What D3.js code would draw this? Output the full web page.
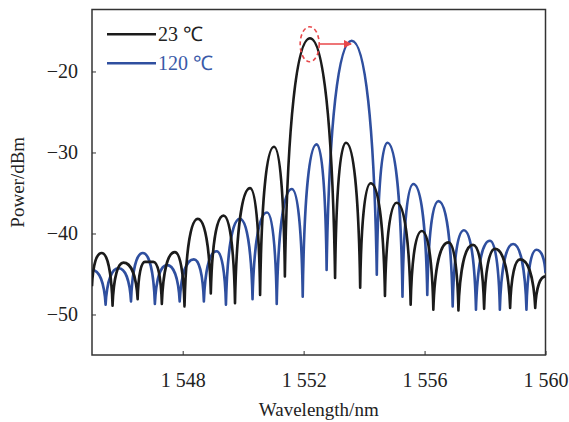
<!DOCTYPE html>
<html>
<head>
<meta charset="utf-8">
<script src="https://cdn.jsdelivr.net/npm/d3@7"></script>
<style>
  body { margin: 0; background: #fff; }
  svg { display: block; }
  text { font-family: "Liberation Serif", "Times New Roman", serif; }
</style>
</head>
<body>
<div id="chart"></div>
<script>
// wavelength (nm) / power (dBm), lobe peaks and dips
const black23 = [
  [1545.0, -46.5], [1545.32, -42.4], [1545.68, -48.9], [1546.04, -43.6], [1546.51, -48.1],
  [1546.75, -43.5], [1547.03, -43.5], [1547.31, -48.7], [1547.74, -42.3], [1548.06, -49.0],
  [1548.50, -38.2], [1548.93, -47.4], [1549.35, -37.8], [1549.73, -48.6], [1550.23, -34.4],
  [1550.56, -47.6], [1551.02, -29.3], [1551.38, -45.3], [1552.21, -15.9], [1553.04, -45.5],
  [1553.40, -28.8], [1553.87, -46.7], [1554.22, -33.8], [1554.69, -47.7], [1555.08, -36.2],
  [1555.54, -48.8], [1555.91, -39.7], [1556.29, -49.4], [1556.79, -41.1], [1557.12, -49.5],
  [1557.60, -41.4], [1557.97, -49.3], [1558.33, -41.9], [1558.83, -49.2], [1559.16, -43.2],
  [1559.66, -49.2], [1560.0, -45.3]
];

const blue120 = [
  [1545.0, -44.5], [1545.45, -48.8], [1545.88, -44.3], [1546.29, -48.4], [1546.68, -42.4],
  [1547.08, -48.7], [1547.48, -43.9], [1547.90, -48.4], [1548.37, -43.2], [1548.70, -48.4],
  [1549.12, -42.2], [1549.43, -48.8], [1549.89, -38.2], [1550.31, -48.1], [1550.79, -37.4],
  [1551.11, -48.7], [1551.61, -34.5], [1551.97, -47.8], [1552.43, -29.0], [1552.76, -44.5],
  [1553.59, -16.2], [1554.42, -45.1], [1554.77, -28.8], [1555.27, -47.8], [1555.63, -33.9],
  [1556.09, -47.6], [1556.46, -36.0], [1556.93, -49.0], [1557.30, -39.6], [1557.70, -49.4],
  [1558.16, -40.9], [1558.49, -49.4], [1558.93, -41.3], [1559.37, -49.4], [1559.70, -42.0],
  [1560.0, -44.9]
];

const xTicks = [1548, 1552, 1556, 1560];
const yTicks = [-20, -30, -40, -50];
const legendLabels = ["23 \u2103", "120 \u2103"];
const seriesColors = ["#1b1b1b", "#2f4f9f"];

const width = 569, height = 422;
const margin = {top: 9.5, right: 23.5, bottom: 67, left: 92};

const svg = d3.select("#chart").append("svg")
  .attr("width", width)
  .attr("height", height);

const x = d3.scaleLinear().domain([1545, 1560]).range([margin.left, width - margin.right]);
const y = d3.scaleLinear().domain([-55, -12.35]).range([height - margin.bottom, margin.top]);

const fmt = d => String(d).replace(/^(\d)(\d{3})$/, "$1 $2");

// curve for a spectrum: round tops, narrow dips (each lobe drawn as an arch)
function ArchCurve(context) { this._context = context; }
ArchCurve.prototype = {
  areaStart() { this._line = 0; },
  areaEnd() { this._line = NaN; },
  lineStart() { this._pts = []; },
  point(px, py) { this._pts.push([+px, +py]); },
  lineEnd() {
    const p = this._pts, ctx = this._context;
    if (!p.length) return;
    ctx.moveTo(p[0][0], p[0][1]);
    for (let i = 1; i < p.length; i++) {
      const a = p[i - 1], b = p[i];
      const dx = b[0] - a[0], dy = b[1] - a[1];
      if (Math.abs(dy) < 1) {
        ctx.bezierCurveTo(a[0] + dx * 0.4, a[1], b[0] - dx * 0.4, b[1], b[0], b[1]);
        continue;
      }
      const top = a[1] < b[1] ? a : b;      // smaller pixel y = higher power
      const dip = top === a ? b : a;
      const sx = Math.sign(dip[0] - top[0]);
      const w = Math.abs(dx), h = Math.abs(dy);
      const cTop = [top[0] + sx * w * 0.52, top[1]];
      const cDip = [dip[0] - sx * w * 0.1, dip[1] - h * 0.65];
      if (top === a) ctx.bezierCurveTo(cTop[0], cTop[1], cDip[0], cDip[1], b[0], b[1]);
      else ctx.bezierCurveTo(cDip[0], cDip[1], cTop[0], cTop[1], b[0], b[1]);
    }
  }
};
const archCurve = ctx => new ArchCurve(ctx);

// axes, ticks pointing inward
svg.append("g")
  .attr("transform", `translate(0,${height - margin.bottom})`)
  .call(d3.axisBottom(x).tickValues(xTicks).tickSize(-4).tickPadding(18).tickFormat(fmt))
  .call(g => g.select(".domain").remove())
  .call(g => g.selectAll("line").attr("stroke", "#333"))
  .call(g => g.selectAll("text").attr("font-size", 20).attr("fill", "#222")
    .attr("font-family", "Liberation Serif"));

svg.append("g")
  .attr("transform", `translate(${margin.left},0)`)
  .call(d3.axisLeft(y).tickValues(yTicks).tickSize(-4).tickPadding(14)
    .tickFormat(d => "\u2212" + Math.abs(d)))
  .call(g => g.select(".domain").remove())
  .call(g => g.selectAll("line").attr("stroke", "#333"))
  .call(g => g.selectAll("text").attr("font-size", 20).attr("fill", "#222")
    .attr("font-family", "Liberation Serif"));

// frame
svg.append("rect")
  .attr("x", margin.left)
  .attr("y", margin.top)
  .attr("width", width - margin.left - margin.right)
  .attr("height", height - margin.top - margin.bottom)
  .attr("fill", "none")
  .attr("stroke", "#333")
  .attr("stroke-width", 1.5);

const line = d3.line()
  .x(d => x(d[0]))
  .y(d => y(d[1]))
  .curve(archCurve);

svg.append("clipPath").attr("id", "clip")
  .append("rect")
  .attr("x", margin.left).attr("y", margin.top)
  .attr("width", width - margin.left - margin.right)
  .attr("height", height - margin.top - margin.bottom);

const plot = svg.append("g").attr("clip-path", "url(#clip)");

plot.append("path")
  .datum(blue120)
  .attr("d", line)
  .attr("fill", "none")
  .attr("stroke", seriesColors[1])
  .attr("stroke-width", 2.6)
  .attr("stroke-linejoin", "round");

plot.append("path")
  .datum(black23)
  .attr("d", line)
  .attr("fill", "none")
  .attr("stroke", seriesColors[0])
  .attr("stroke-width", 2.6)
  .attr("stroke-linejoin", "round");

// red marker: dashed ellipse round the 23 degree peak and arrow to the shifted peak
svg.append("defs").append("marker")
  .attr("id", "arrow")
  .attr("viewBox", "0 0 10 10")
  .attr("refX", 9).attr("refY", 5)
  .attr("markerWidth", 5).attr("markerHeight", 5)
  .attr("orient", "auto")
  .append("path")
  .attr("d", "M0,0L10,5L0,10z")
  .attr("fill", "#e8474a");

svg.append("ellipse")
  .attr("cx", x(1552.2))
  .attr("cy", y(-16.64))
  .attr("rx", 9.5)
  .attr("ry", 17.5)
  .attr("fill", "none")
  .attr("stroke", "#e8474a")
  .attr("stroke-width", 1.6)
  .attr("stroke-dasharray", "4,3");

svg.append("line")
  .attr("x1", x(1552.51)).attr("y1", y(-16.6))
  .attr("x2", x(1553.57)).attr("y2", y(-16.6))
  .attr("stroke", "#e8474a")
  .attr("stroke-width", 1.6)
  .attr("marker-end", "url(#arrow)");

// legend
const legend = svg.append("g");
legendLabels.forEach((lab, i) => {
  const ly = 34.3 + i * 29;
  legend.append("line")
    .attr("x1", 107).attr("x2", 156)
    .attr("y1", ly).attr("y2", ly)
    .attr("stroke", seriesColors[i])
    .attr("stroke-width", 2.6);
  legend.append("text")
    .attr("x", 158).attr("y", ly + 7)
    .attr("font-size", 20)
    .attr("fill", i === 0 ? "#222" : "#3a5aa8")
    .text(lab);
});

// axis titles
svg.append("text")
  .attr("x", (margin.left + width - margin.right) / 2)
  .attr("y", 416)
  .attr("text-anchor", "middle")
  .attr("font-size", 19)
  .attr("fill", "#222")
  .text("Wavelength/nm");

svg.append("text")
  .attr("transform", `translate(24,${(margin.top + height - margin.bottom) / 2}) rotate(-90)`)
  .attr("text-anchor", "middle")
  .attr("font-size", 19)
  .attr("fill", "#222")
  .text("Power/dBm");
</script>
</body>
</html>
